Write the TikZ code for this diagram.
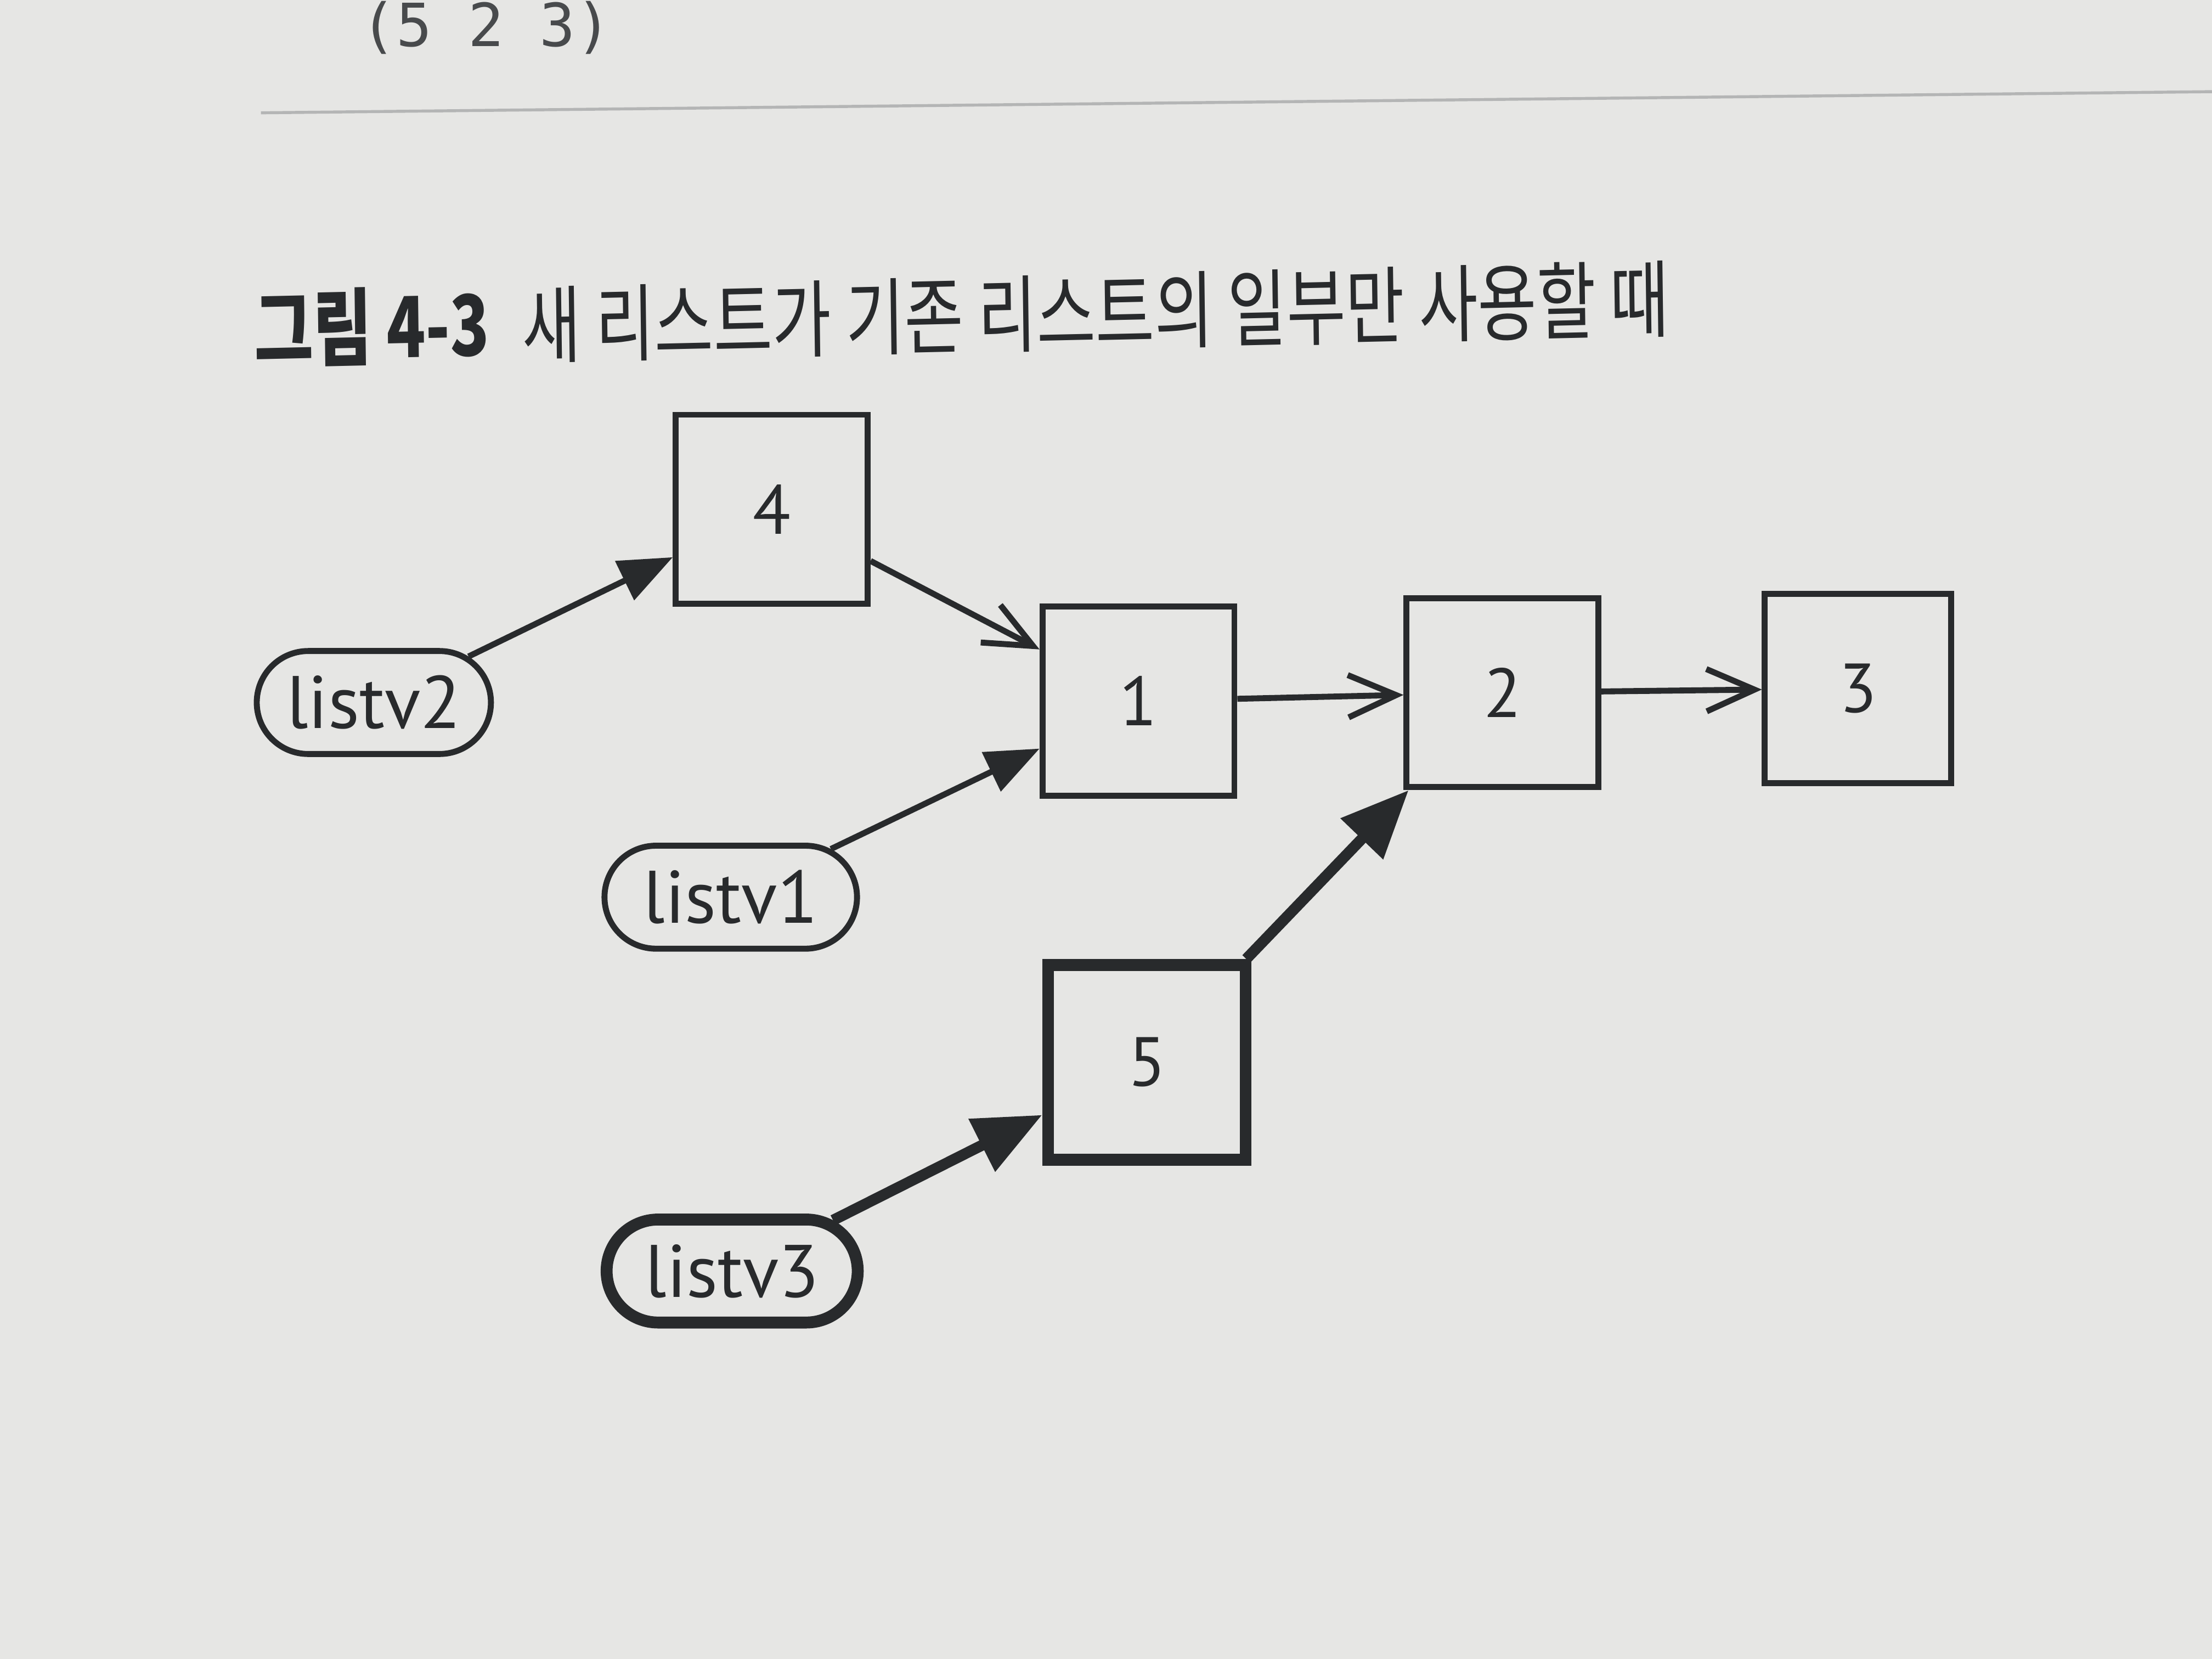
\documentclass[tikz,border=0pt]{standalone}
\usepackage{fontspec}
\newfontfamily\diagfont{PT Sans}
\newfontfamily\krfont{Noto Sans CJK KR}
\newfontfamily\codefont{DejaVu Sans Mono}
\usetikzlibrary{arrows.meta,shapes.misc}
\definecolor{paper}{RGB}{230,230,228}
\definecolor{ink}{RGB}{40,42,44}
\begin{document}
\begin{tikzpicture}[>=latex,
  cell/.style={draw=ink,line width=1.2pt,minimum width=1.36cm,minimum height=1.34cm,inner sep=0pt,text=ink,font=\diagfont\fontsize{14}{14}\selectfont},
  ptr/.style={rounded rectangle,draw=ink,line width=1.2pt,minimum width=1.66cm,minimum height=0.73cm,inner sep=0pt,text=ink,font=\diagfont\fontsize{15}{15}\selectfont},
  heavy/.style={line width=2.4pt},
  link/.style={draw=ink,line width=1.2pt,-{Straight Barb[length=3.4mm,width=3mm]}},
  ref/.style={draw=ink,line width=1.2pt,-{Triangle[length=3.8mm,width=3mm]}},
  refheavy/.style={draw=ink,line width=2.2pt,-{Triangle[length=4.8mm,width=4mm]}}]
\useasboundingbox (0,0) rectangle (15.68,11.76);
\fill[paper] (0,0) rectangle (15.68,11.76);
\node[anchor=base west,inner sep=0pt,text=ink!85,font=\codefont\fontsize{12}{12}\selectfont] (code) at (2.55,11.43) {(5 2 3)};
\draw[ink!35,line width=0.6pt] (1.85,10.96)--(15.68,11.11);

\node[anchor=base west,inner sep=0pt,xscale=.76,rotate=1,text=ink,font=\krfont\bfseries\fontsize{17}{17}\selectfont] (fig) at (1.80,9.20) {그림 4-3};
\node[anchor=base west,inner sep=0pt,xscale=.76,rotate=1,text=ink,font=\krfont\fontsize{17}{17}\selectfont] (title) at (3.70,9.23) {새 리스트가 기존 리스트의 일부만 사용할 때};

\node[cell] (n4) at (5.47,8.15) {4};
\node[cell] (n1) at (8.07,6.79) {1};
\node[cell] (n2) at (10.65,6.85) {2};
\node[cell,minimum width=1.32cm] (n3) at (13.17,6.88) {3};
\node[cell,heavy,minimum width=1.40cm,minimum height=1.38cm] (n5) at (8.13,4.23) {5};

\node[ptr] (listv2) at (2.65,6.78) {listv2};
\node[ptr,minimum width=1.79cm] (listv1) at (5.18,5.40) {listv1};
\node[ptr,heavy,minimum width=1.78cm] (listv3) at (5.19,2.75) {listv3};

\draw[ref] (listv2) -- (n4);
\draw[link] (n4) -- (n1);
\draw[ref] (listv1) -- (n1);
\draw[link] (n1) -- (n2);
\draw[link] (n2) -- (n3);
\draw[refheavy] (n5) -- (n2);
\draw[refheavy] (listv3) -- (n5);
\end{tikzpicture}
\end{document}
